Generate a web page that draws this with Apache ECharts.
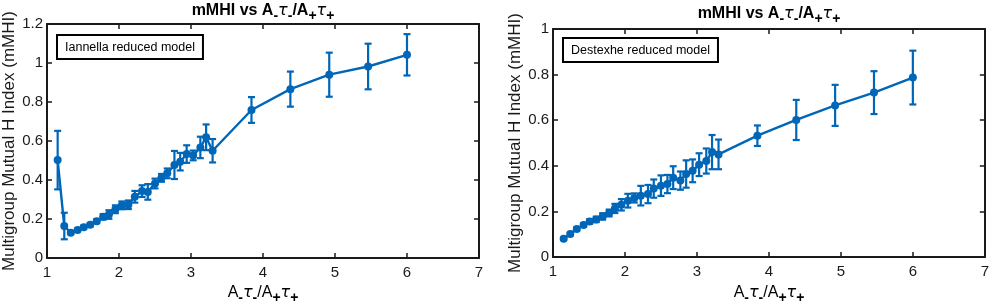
<!DOCTYPE html>
<html>
<head>
<meta charset="utf-8">
<script src="https://cdn.jsdelivr.net/npm/echarts@6/dist/echarts.min.js"></script>
<style>
  html, body { margin: 0; padding: 0; background: #fff; }
  #chart { width: 992px; height: 306px; }
</style>
</head>
<body>
<div id="chart"></div>
<script>
// ratio A-tau- / A+tau+ (same grid for both models)
const ratio = [1.148, 1.24, 1.33, 1.425, 1.51, 1.60, 1.69, 1.78, 1.86, 1.95,
  2.04, 2.13, 2.22, 2.32, 2.40, 2.50, 2.59, 2.67, 2.77, 2.85,
  2.94, 3.03, 3.13, 3.21, 3.30, 3.84, 4.38, 4.92, 5.46, 6.0];

// Iannella reduced model
const iannellaMean = [0.502, 0.164, 0.129, 0.144, 0.158, 0.170, 0.189, 0.211, 0.223, 0.250,
  0.270, 0.273, 0.314, 0.343, 0.339, 0.382, 0.411, 0.434, 0.477, 0.494,
  0.533, 0.526, 0.567, 0.619, 0.550, 0.759, 0.866, 0.940, 0.982, 1.042];
const iannellaErr = [0.150, 0.068, 0.006, 0.007, 0.008, 0.008, 0.010, 0.014, 0.022, 0.020,
  0.020, 0.022, 0.030, 0.030, 0.040, 0.025, 0.020, 0.025, 0.072, 0.045,
  0.045, 0.025, 0.055, 0.066, 0.060, 0.066, 0.090, 0.113, 0.117, 0.106];

// Destexhe reduced model
const destexheMean = [0.080, 0.101, 0.123, 0.140, 0.156, 0.165, 0.178, 0.193, 0.213, 0.229,
  0.247, 0.259, 0.269, 0.276, 0.300, 0.313, 0.320, 0.348, 0.335, 0.364,
  0.378, 0.405, 0.421, 0.460, 0.450, 0.532, 0.601, 0.665, 0.721, 0.787];
const destexheErr = [0.005, 0.006, 0.007, 0.008, 0.010, 0.012, 0.014, 0.015, 0.020, 0.025,
  0.030, 0.020, 0.043, 0.040, 0.040, 0.045, 0.040, 0.050, 0.040, 0.060,
  0.050, 0.050, 0.055, 0.075, 0.065, 0.045, 0.088, 0.090, 0.094, 0.118];

const xTicks = [1, 2, 3, 4, 5, 6, 7];
const leftYTicks = [0, 0.2, 0.4, 0.6, 0.8, 1, 1.2];
const rightYTicks = [0, 0.2, 0.4, 0.6, 0.8, 1];

const blue = '#0066b8';
const ink = '#1a1a1a';
const labelFont = 'Liberation Sans, Arial, sans-serif';

const chart = echarts.init(document.getElementById('chart'));

function xAxisPair(gridIndex) {
  const base = {
    gridIndex: gridIndex,
    type: 'value',
    min: xTicks[0],
    max: xTicks[xTicks.length - 1],
    interval: 1,
    splitLine: { show: false },
    axisLine: { show: true, onZero: false, lineStyle: { color: ink, width: 2 } },
    axisTick: { show: true, inside: true, length: 5, lineStyle: { color: ink, width: 1.5 } }
  };
  return [
    Object.assign({}, base, {
      position: 'bottom',
      axisLabel: { color: ink, fontSize: 15, fontFamily: labelFont, margin: 7 }
    }),
    Object.assign({}, base, { position: 'top', axisLabel: { show: false } })
  ];
}

function yAxisPair(gridIndex, ticks, name) {
  const base = {
    gridIndex: gridIndex,
    type: 'value',
    min: ticks[0],
    max: ticks[ticks.length - 1],
    interval: 0.2,
    splitLine: { show: false },
    axisLine: { show: true, onZero: false, lineStyle: { color: ink, width: 2 } },
    axisTick: { show: true, inside: true, length: 5, lineStyle: { color: ink, width: 1.5 } }
  };
  return [
    Object.assign({}, base, {
      position: 'left',
      name: name,
      nameLocation: 'middle',
      nameGap: 29,
      nameTextStyle: { color: ink, fontSize: 17, fontFamily: labelFont },
      axisLabel: {
        color: ink, fontSize: 15, fontFamily: labelFont, margin: 4,
        formatter: v => String(Math.round(v * 10) / 10)
      }
    }),
    Object.assign({}, base, { position: 'right', axisLabel: { show: false } })
  ];
}

// vertical error bar with caps
function renderErrorBar(params, api) {
  const x = api.value(0);
  const lo = api.coord([x, api.value(1)]);
  const hi = api.coord([x, api.value(2)]);
  const cap = 3.5;
  const style = { stroke: blue, lineWidth: 2.2 };
  return {
    type: 'group',
    children: [
      { type: 'line', shape: { x1: hi[0], y1: hi[1], x2: lo[0], y2: lo[1] }, style: style },
      { type: 'line', shape: { x1: hi[0] - cap, y1: hi[1], x2: hi[0] + cap, y2: hi[1] }, style: style },
      { type: 'line', shape: { x1: lo[0] - cap, y1: lo[1], x2: lo[0] + cap, y2: lo[1] }, style: style }
    ]
  };
}

function modelSeries(axisBase, mean, err) {
  const pts = ratio.map((r, i) => [r, mean[i]]);
  const bars = ratio.map((r, i) => [r, mean[i] - err[i], mean[i] + err[i]]);
  return [
    {
      type: 'custom',
      xAxisIndex: axisBase,
      yAxisIndex: axisBase,
      renderItem: renderErrorBar,
      data: bars,
      silent: true,
      z: 2
    },
    {
      type: 'line',
      xAxisIndex: axisBase,
      yAxisIndex: axisBase,
      data: pts,
      symbol: 'circle',
      symbolSize: 8,
      lineStyle: { color: blue, width: 2.4 },
      itemStyle: { color: blue },
      silent: true,
      z: 3
    }
  ];
}

// rich text pieces for "A-tau-/A+tau+"
function ratioRich(size, weight) {
  return {
    n: { fontSize: size, fontWeight: weight, fontFamily: labelFont, color: ink, lineHeight: 24, verticalAlign: 'middle' },
    s: { fontSize: size - 2, fontWeight: 'bold', fontFamily: labelFont, color: ink, lineHeight: 24, verticalAlign: 'bottom' },
    t: { fontSize: size, fontStyle: 'italic', fontWeight: 'normal', fontFamily: 'DejaVu Sans, sans-serif', color: ink, lineHeight: 24, verticalAlign: 'middle' }
  };
}
const titleText = '{n|mMHI vs A}{s|-}{t|τ}{s|-}{n|/A}{s|+}{t|τ}{s|+}';
const xNameText = '{n|A}{s|-}{t|τ}{s|-}{n|/A}{s|+}{t|τ}{s|+}';

function textAt(x, y, text, size, weight) {
  return {
    type: 'text',
    x: x,
    y: y,
    style: {
      text: text,
      rich: ratioRich(size, weight),
      align: 'center',
      verticalAlign: 'middle'
    }
  };
}

function boxLabel(x, y, text) {
  return {
    type: 'text',
    x: x,
    y: y,
    style: {
      text: text,
      fontSize: 12.5,
      fontFamily: labelFont,
      fill: '#000',
      backgroundColor: '#fff',
      borderColor: '#000',
      borderWidth: 2,
      padding: [5, 7, 4, 7]
    }
  };
}

const option = {
  animation: false,
  backgroundColor: '#fff',
  grid: [
    { left: 47, top: 24, width: 432, height: 234 },
    { left: 553, top: 29, width: 432, height: 228 }
  ],
  xAxis: xAxisPair(0).concat(xAxisPair(1)),
  yAxis: yAxisPair(0, leftYTicks, 'Multigroup Mutual H Index (mMHI)')
    .concat(yAxisPair(1, rightYTicks, 'Multigroup Mutual H Index (mMHI)')),
  series: modelSeries(0, iannellaMean, iannellaErr)
    .concat(modelSeries(2, destexheMean, destexheErr)),
  graphic: [
    textAt(263, 11, titleText, 16, 'bold'),
    textAt(769, 14, titleText, 16, 'bold'),
    textAt(263, 293, xNameText, 16, 'normal'),
    textAt(769, 293, xNameText, 16, 'normal'),
    boxLabel(58, 36, 'Iannella reduced model'),
    boxLabel(564, 39, 'Destexhe reduced model')
  ]
};

// the second grid uses axes 2 (bottom/left) and 3 (top/right)
option.xAxis[2].gridIndex = 1;
option.xAxis[3].gridIndex = 1;

chart.setOption(option);
</script>
</body>
</html>
